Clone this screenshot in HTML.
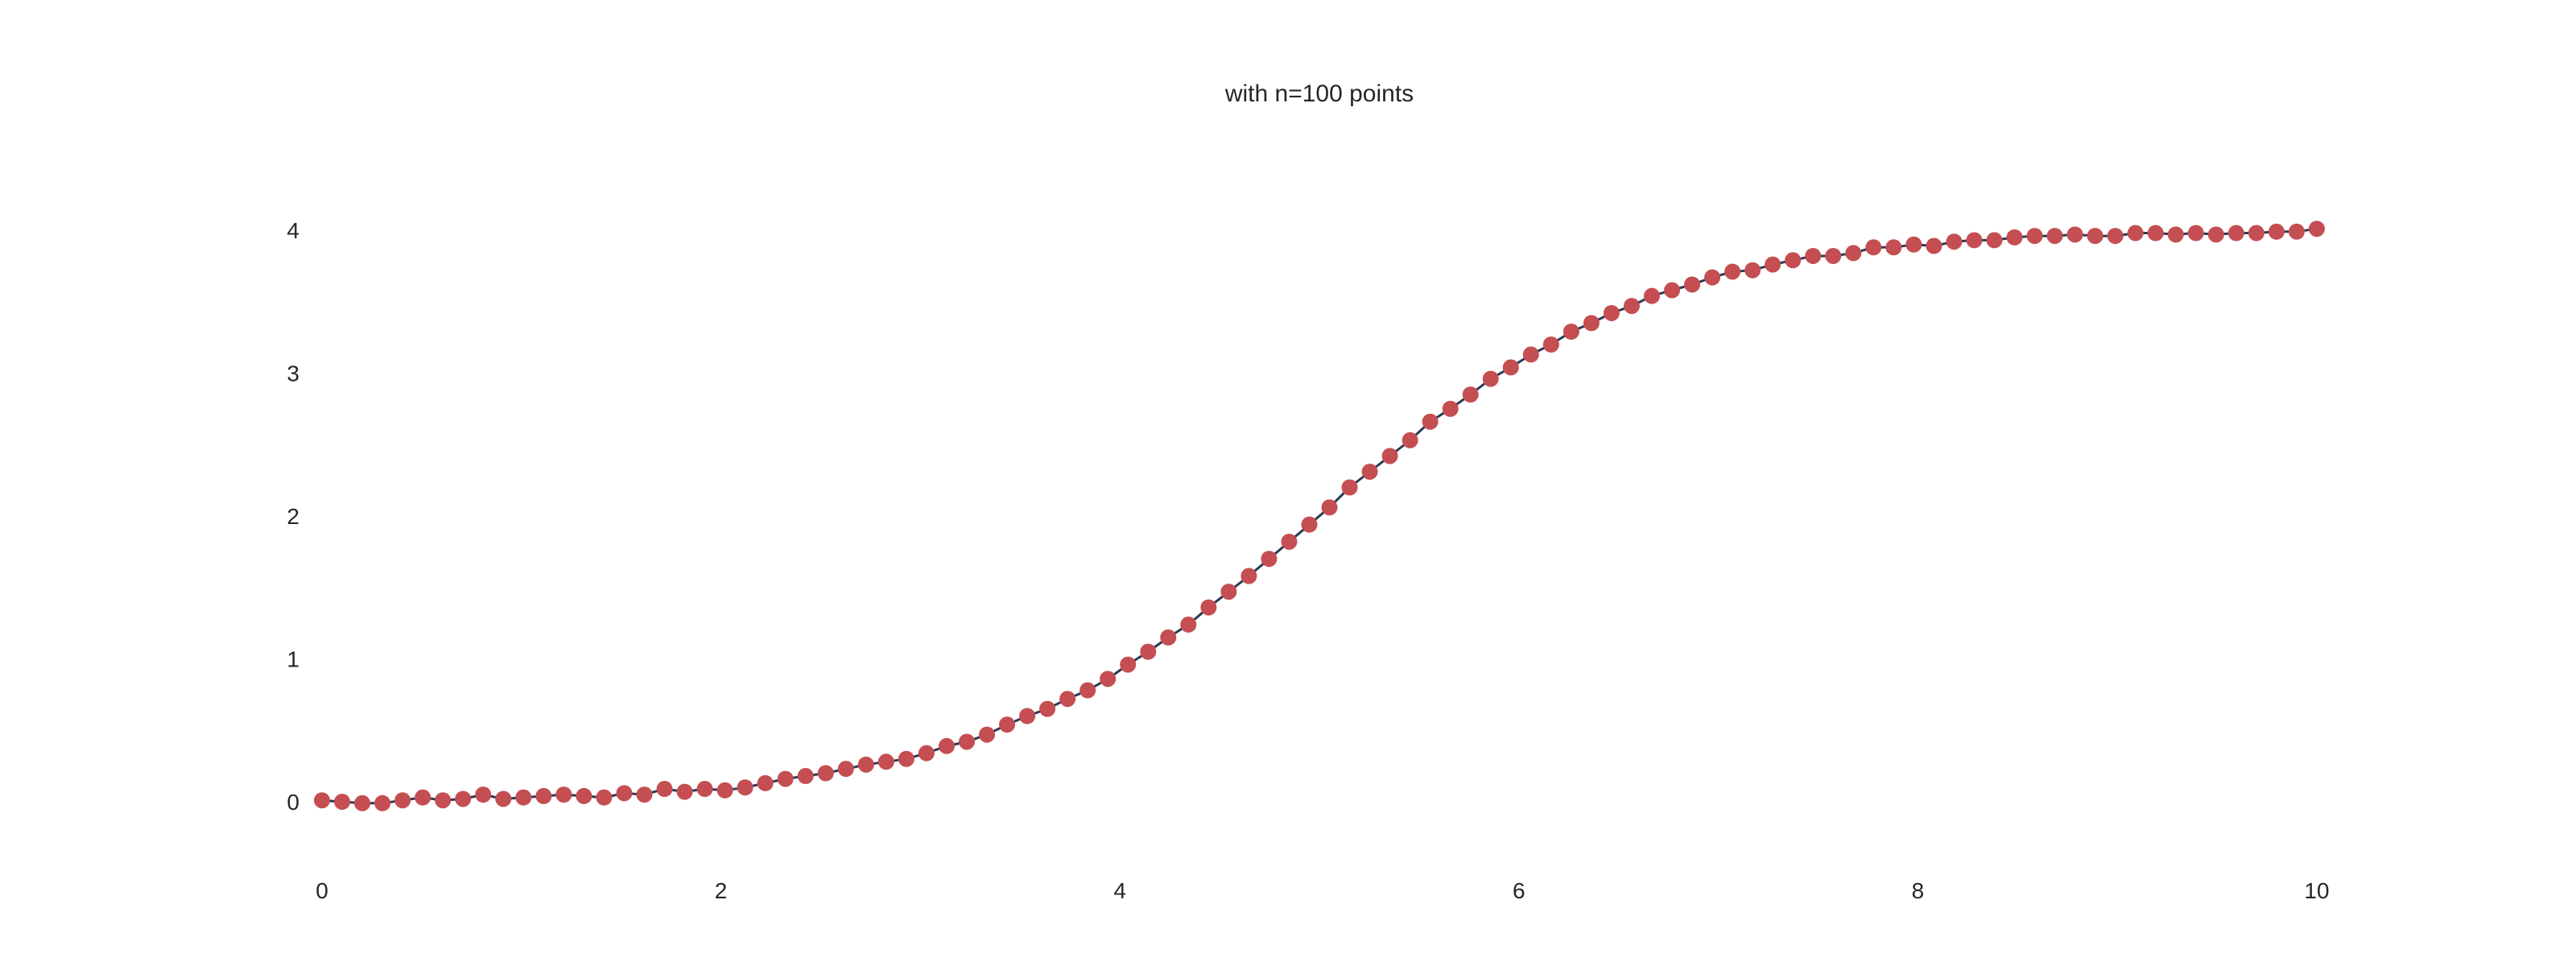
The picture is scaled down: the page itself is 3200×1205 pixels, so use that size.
<!DOCTYPE html>
<html><head><meta charset="utf-8"><style>
html,body{margin:0;padding:0;background:#fff;}
svg text{font-family:"Liberation Sans",sans-serif;fill:#262626;}
</style></head><body>
<svg id="chart" width="3200" height="1200" xmlns="http://www.w3.org/2000/svg">
<text x="1639" y="126" font-size="30" text-anchor="middle">with n=100 points</text>
<g id="xticks"></g>
<g id="yticks"></g>
<g id="plot"></g>
</svg>
<script>
const yValues = [0.01,0.0,-0.01,-0.01,0.01,0.03,0.01,0.02,0.05,0.02,
0.03,0.04,0.05,0.04,0.03,0.06,0.05,0.09,0.07,0.09,
0.08,0.1,0.13,0.16,0.18,0.2,0.23,0.26,0.28,0.3,
0.34,0.39,0.42,0.47,0.54,0.6,0.65,0.72,0.78,0.86,
0.96,1.05,1.15,1.24,1.36,1.47,1.58,1.7,1.82,1.94,
2.06,2.2,2.31,2.42,2.53,2.66,2.75,2.85,2.96,3.04,
3.13,3.2,3.29,3.35,3.42,3.47,3.54,3.58,3.62,3.67,
3.71,3.72,3.76,3.79,3.82,3.82,3.84,3.88,3.88,3.9,
3.89,3.92,3.93,3.93,3.95,3.96,3.96,3.97,3.96,3.96,
3.98,3.98,3.97,3.98,3.97,3.98,3.98,3.99,3.99,4.01];
const xMin = 0, xMax = 10;
const xTicks = [0,2,4,6,8,10];
const yTicks = [0,1,2,3,4];

const NS = "http://www.w3.org/2000/svg";
function xs(v){return 400 + (v - xMin) / (xMax - xMin) * 2478;}
function ys(v){return 996 - v / 4 * 710;}
const xg = document.getElementById('xticks');
xTicks.forEach(t=>{
  const el=document.createElementNS(NS,'text');
  
  
  el.setAttribute('x',xs(t));el.setAttribute('y',1116);
  el.setAttribute('font-size','28');el.setAttribute('text-anchor','middle');
  el.textContent=t;xg.appendChild(el);
});
const yg = document.getElementById('yticks');
yTicks.forEach(t=>{
  const el=document.createElementNS(NS,'text');
  
  
  el.setAttribute('x',372);el.setAttribute('y',ys(t)+10);
  el.setAttribute('font-size','28');el.setAttribute('text-anchor','end');
  el.textContent=t;yg.appendChild(el);
});
const plot=document.getElementById('plot');
const n=yValues.length;
const pts=yValues.map((v,i)=>[xs(xMin+i*(xMax-xMin)/(n-1)),ys(v)]);
const d=pts.map((p,i)=>(i?'L':'M')+p[0].toFixed(1)+','+p[1].toFixed(1)).join('');
const line=document.createElementNS(NS,'path');


line.setAttribute('d',d);line.setAttribute('fill','none');
line.setAttribute('stroke','#2b3a55');line.setAttribute('stroke-width','3');
plot.appendChild(line);
pts.forEach(p=>{
  const c=document.createElementNS(NS,'circle');
  
  
  c.setAttribute('cx',p[0]);c.setAttribute('cy',p[1]);c.setAttribute('r','10');
  c.setAttribute('fill','#c44e52');
  plot.appendChild(c);
});
</script>
</body></html>
